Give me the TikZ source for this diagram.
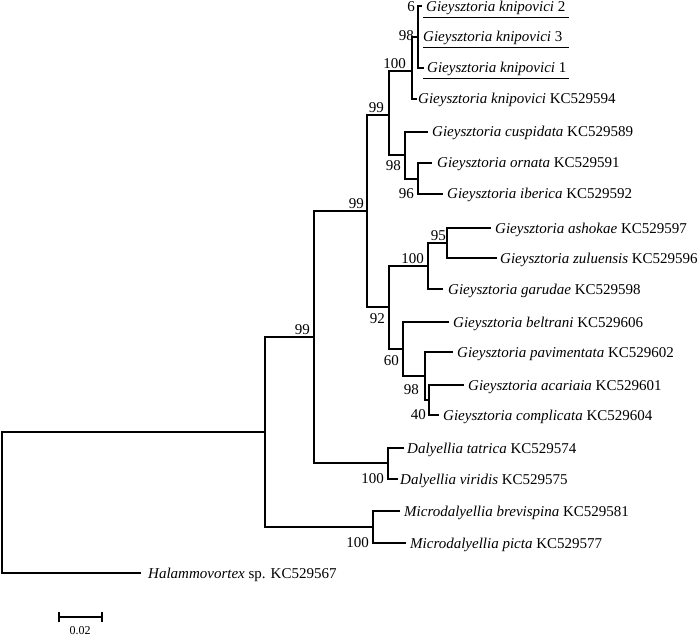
\documentclass[tikz,border=0pt]{standalone}
\usepackage{fontspec}
\setmainfont{Liberation Serif}
\begin{document}
\begin{tikzpicture}[x=1pt,y=-1pt,
  br/.style={line width=1.1pt,line cap=rect},
  leaf/.style={anchor=base west,inner sep=0pt,yshift=-5pt,font=\fontsize{15}{17}\selectfont},
  bs/.style={inner sep=0pt,font=\fontsize{15}{17}\selectfont},
  uline/.style={line width=0.9pt}]
\useasboundingbox (0,0) rectangle (700,636);
% internal nodes
\coordinate (R) at (2,502);
\coordinate (A) at (265,432);
\coordinate (B) at (314,337);
\coordinate (C) at (367,211);
\coordinate (E) at (389,115);
\coordinate (F) at (412,71);
\coordinate (K6) at (418,37);
\coordinate (H) at (405,155);
\coordinate (I) at (418,179);
\coordinate (G) at (389,307);
\coordinate (J) at (428,266);
\coordinate (N95) at (447,243);
\coordinate (L) at (403,349);
\coordinate (P) at (425,376);
\coordinate (Q) at (429,400);
\coordinate (D) at (388,463);
\coordinate (M) at (373,527);
% tip ends
\coordinate (t1) at (421,6);
\coordinate (t3) at (423,68);
\coordinate (t4) at (416,99);
\coordinate (t5) at (427,132);
\coordinate (t6) at (431,163);
\coordinate (t7) at (442,194);
\coordinate (t8) at (490,228);
\coordinate (t9) at (496,258);
\coordinate (t10) at (442,289);
\coordinate (t11) at (448,322);
\coordinate (t12) at (452,352);
\coordinate (t13) at (463,385);
\coordinate (t14) at (438,415);
\coordinate (t15) at (403,448);
\coordinate (t16) at (397,479);
\coordinate (t17) at (399,511);
\coordinate (t18) at (405,543);
\coordinate (t19) at (140,573);
% branches
\draw[br] (R) |- (A);
\draw[br] (R) |- (t19);
\draw[br] (A) |- (B);
\draw[br] (A) |- (M);
\draw[br] (B) |- (C);
\draw[br] (B) |- (D);
\draw[br] (C) |- (E);
\draw[br] (C) |- (G);
\draw[br] (E) |- (F);
\draw[br] (E) |- (H);
\draw[br] (F) |- (K6);
\draw[br] (F) |- (t4);
\draw[br] (K6) |- (t1);
\draw[br] (K6) |- (t3);
\draw[br] (H) |- (t5);
\draw[br] (H) |- (I);
\draw[br] (I) |- (t6);
\draw[br] (I) |- (t7);
\draw[br] (G) |- (J);
\draw[br] (G) |- (L);
\draw[br] (J) |- (N95);
\draw[br] (J) |- (t10);
\draw[br] (N95) |- (t8);
\draw[br] (N95) |- (t9);
\draw[br] (L) |- (t11);
\draw[br] (L) |- (P);
\draw[br] (P) |- (t12);
\draw[br] (P) |- (Q);
\draw[br] (Q) |- (t13);
\draw[br] (Q) |- (t14);
\draw[br] (D) |- (t15);
\draw[br] (D) |- (t16);
\draw[br] (M) |- (t17);
\draw[br] (M) |- (t18);
% leaf labels
\node[leaf] (l1) at (426,6.5) {\textit{Gieysztoria knipovici} 2};
\node[leaf] (l2) at (423,37) {\textit{Gieysztoria knipovici} 3};
\node[leaf] (l3) at (427,68) {\textit{Gieysztoria knipovici} 1};
\node[leaf] (l4) at (418,99) {\textit{Gieysztoria knipovici} KC529594};
\node[leaf] (l5) at (432,132) {\textit{Gieysztoria cuspidata} KC529589};
\node[leaf] (l6) at (437,163) {\textit{Gieysztoria ornata} KC529591};
\node[leaf] (l7) at (447,194) {\textit{Gieysztoria iberica} KC529592};
\node[leaf] (l8) at (495,228) {\textit{Gieysztoria ashokae} KC529597};
\node[leaf] (l9) at (500,258) {\textit{Gieysztoria zuluensis} KC529596};
\node[leaf] (l10) at (448,289) {\textit{Gieysztoria garudae} KC529598};
\node[leaf] (l11) at (453,322) {\textit{Gieysztoria beltrani} KC529606};
\node[leaf] (l12) at (457,352) {\textit{Gieysztoria pavimentata} KC529602};
\node[leaf] (l13) at (468,385) {\textit{Gieysztoria acariaia} KC529601};
\node[leaf] (l14) at (443,415) {\textit{Gieysztoria complicata} KC529604};
\node[leaf] (l15) at (407,448) {\textit{Dalyellia tatrica} KC529574};
\node[leaf] (l16) at (400,479) {\textit{Dalyellia viridis} KC529575};
\node[leaf] (l17) at (404,511) {\textit{Microdalyellia brevispina} KC529581};
\node[leaf] (l18) at (410,543) {\textit{Microdalyellia picta} KC529577};
\node[leaf] (l19) at (148,573) {\textit{Halammovortex} sp. KC529567};
% underlines
\coordinate (u1a) at (423,17); \coordinate (u1b) at (569,17);
\coordinate (u2a) at (423,47); \coordinate (u2b) at (569,47);
\coordinate (u3a) at (423,78); \coordinate (u3b) at (569,78);
\draw[uline] (u1a) -- (u1b);
\draw[uline] (u2a) -- (u2b);
\draw[uline] (u3a) -- (u3b);
% bootstrap values
\node[bs,anchor=east] (b1) at (415,7) {6};
\node[bs,anchor=east] (b2) at (414,36) {98};
\node[bs,anchor=south east] (b3) at (406,69) {100};
\node[bs,anchor=south east] (b4) at (384,113) {99};
\node[bs,anchor=north east] (b5) at (401,160) {98};
\node[bs,anchor=east] (b6) at (414,194) {96};
\node[bs,anchor=south east] (b7) at (364,209) {99};
\node[bs,anchor=south east] (b8) at (310,335) {99};
\node[bs,anchor=south east] (b9) at (424,264) {100};
\node[bs,anchor=south east] (b10) at (446,241) {95};
\node[bs,anchor=north east] (b11) at (385,313) {92};
\node[bs,anchor=north east] (b12) at (399,355) {60};
\node[bs,anchor=north east] (b13) at (419,384) {98};
\node[bs,anchor=east] (b14) at (426,415) {40};
\node[bs,anchor=east] (b15) at (384,479) {100};
\node[bs,anchor=east] (b16) at (369,543) {100};
% scale bar
\coordinate (s1) at (59,617);
\coordinate (s2) at (102,617);
\draw[br,line cap=butt] (s1) -- (s2);
\draw[br,line cap=butt] ([yshift=-5pt]s1) -- ([yshift=5pt]s1);
\draw[br,line cap=butt] ([yshift=-5pt]s2) -- ([yshift=5pt]s2);
\node[bs,font=\fontsize{12}{14}\selectfont] (sl) at (80,631) {0.02};
\end{tikzpicture}
\end{document}
